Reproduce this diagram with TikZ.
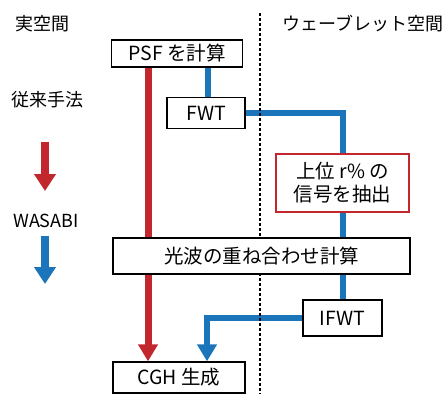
\documentclass[tikz,border=0pt]{standalone}
\usepackage{fontspec}
\setmainfont{Noto Sans CJK JP}
\usetikzlibrary{arrows.meta}
\definecolor{cred}{HTML}{C1272D}
\definecolor{cblue}{HTML}{1B75BB}
\pgfdeclarelayer{bg}
\pgfdeclarelayer{mid}
\pgfsetlayers{bg,mid,main}
\tikzset{
  box/.style={draw=black, line width=1.3pt, fill=white, inner sep=0pt, font=\fontsize{19.5}{22}\selectfont},
  redbox/.style={box, draw=cred, line width=2.4pt},
  lbl/.style={inner sep=0pt, font=\fontsize{18}{20}\selectfont},
  redline/.style={draw=cred, line width=7pt},
  blueline/.style={draw=cblue, line width=6pt},
  tip/.style={-{Triangle[length=17pt,width=19pt]}},
  sep/.style={draw=black, line width=2.6pt, dash pattern=on 3pt off 2pt}
}
\begin{document}
\begin{tikzpicture}[x=1pt,y=-1pt]
\useasboundingbox (0,0) rectangle (442,394);
% labels
\node[lbl] (real) at (43,24) {実空間};
\node[lbl] (wave) at (363,24) {ウェーブレット空間};
\node[lbl] (conv) at (48,100) {従来手法};
\node[lbl] (wasabi) at (46,221) {WASABI};
% legend arrows
\coordinate (ra1) at (45,142); \coordinate (ra2) at (45,191);
\coordinate (ba1) at (45,236); \coordinate (ba2) at (45,284);
\draw[redline, line width=8pt, -{Triangle[length=17pt,width=21pt]}] (ra1) -- (ra2);
\draw[blueline, line width=8pt, -{Triangle[length=17pt,width=21pt]}] (ba1) -- (ba2);
% boxes
\node[box, minimum width=131pt, minimum height=27pt] (psf) at (177,53.5) {PSF を計算};
\node[box, minimum width=78pt, minimum height=31pt] (fwt) at (206,113) {FWT};
\node[redbox, minimum width=133pt, minimum height=58pt, align=center, font=\fontsize{19.5}{23}\selectfont] (ext) at (342.5,183) {上位 r\% の\\信号を抽出};
\node[box, minimum width=297pt, minimum height=36pt] (sup) at (261.5,256) {光波の重ね合わせ計算};
\node[box, minimum width=79pt, minimum height=36pt] (ifwt) at (342.5,318) {IFWT};
\node[box, minimum width=132pt, minimum height=31pt] (cgh) at (179,377.5) {CGH 生成};
% connectors
\begin{pgfonlayer}{bg}
\draw[redline] (psf.south -| 148,0) -- (sup.north -| 148,0);
\draw[redline, tip] (sup.south -| 148,0) -- (cgh.north -| 148,0);
\draw[blueline] (psf.south -| 208,0) -- (fwt.north -| 208,0);
\draw[blueline] (fwt.east) -| (ext.north -| 343,0);
\draw[blueline] (ext.south -| 343,0) -- (sup.north -| 343,0);
\draw[blueline] (sup.south -| 343,0) -- (ifwt.north -| 343,0);
\draw[blueline, tip] (ifwt.west) -| (cgh.north -| 207,0);
\end{pgfonlayer}
% separator
\begin{pgfonlayer}{mid}
\coordinate (s1) at (260,13); \coordinate (s2) at (260,394);
\draw[sep] (s1) -- (s2);
\end{pgfonlayer}
\end{tikzpicture}
\end{document}
